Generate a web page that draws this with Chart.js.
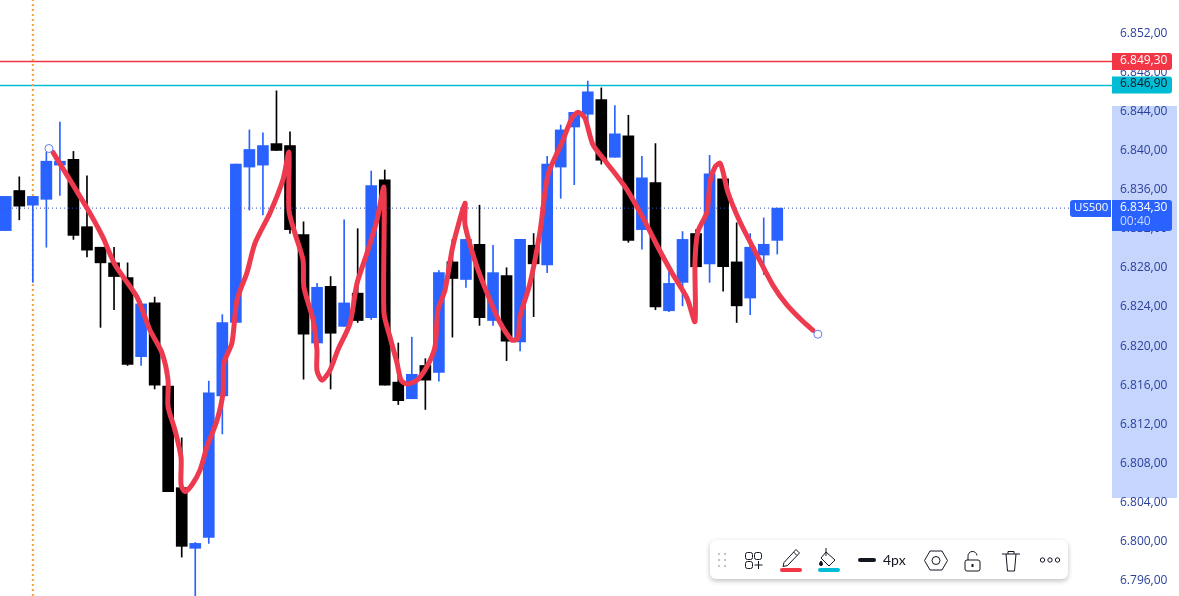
<!DOCTYPE html>
<html>
<head>
<meta charset="utf-8">
<title>US500</title>
<script src="https://cdn.jsdelivr.net/npm/chart.js@4"></script>
<style>
    html, body { margin: 0; padding: 0; background: #fff; overflow: hidden; }
    #wrap { position: relative; width: 1179px; height: 596px; }
    #toolbar { position: absolute; left: 710px; top: 540px; width: 358px; height: 39px; background: #fff; border-radius: 6px; box-shadow: 0 2px 5px rgba(0,0,0,0.25); }
    #toolbar svg { position: absolute; left: 0; top: 0; }
    #toolbar span { position: absolute; left: 173px; top: 11px; font: 14px Lato, sans-serif; color: #131722; line-height: 18px; }
</style>
</head>
<body>
<div id="wrap">
    <canvas id="myChart" width="1179" height="596"></canvas>
    <div id="toolbar">
        <svg width="358" height="39" fill="none" stroke="#131722" stroke-width="1">
            <g fill="#c4c7ce" stroke="none">
                <circle cx="9" cy="14" r="1.2"/><circle cx="15" cy="14" r="1.2"/>
                <circle cx="9" cy="20" r="1.2"/><circle cx="15" cy="20" r="1.2"/>
                <circle cx="9" cy="26" r="1.2"/><circle cx="15" cy="26" r="1.2"/>
            </g>
            <rect x="35.500" y="12.500" width="7" height="7" rx="2"/><rect x="44.500" y="12.500" width="7" height="7" rx="2"/>
            <rect x="35.500" y="21.500" width="7" height="7" rx="2"/><path d="M44.500 25h8M48.500 21v8"/>
            <path d="M74 22.500l12-13 3.500 3.500-12 12.500-4.500 1zM83.500 12l3.500 3.500"/>
            <rect x="70" y="28" width="22" height="4" rx="2" fill="#f23645" stroke="none"/>
            <path d="M116 12l9 8-6 6-8-8zM116 8v8"/>
            <path d="M111 21c-1 1.500-1.500 2-1.500 3a1.500 1.500 0 0 0 3 0c0-1-.5-1.500-1.500-3z" fill="#131722"/>
            <rect x="108" y="28" width="22" height="4" rx="2" fill="#00bcd4" stroke="none"/>
            <rect x="148" y="18" width="18" height="4" rx="2" fill="#131722" stroke="none"/>
            <path d="M220 11h12l5.500 9.500-5.500 9.500h-12l-5.500-9.500z"/>
            <circle cx="226" cy="20.500" r="4"/>
            <rect x="255" y="20" width="15" height="11" rx="2"/><path d="M258 20v-3.500a4.500 4.500 0 0 1 9-1"/>
            <path d="M262.500 24v3" stroke-width="2"/>
            <path d="M292 14h18M296 14l1.500 17h7l1.500-17M298 14v-2.500h6v2.500"/>
            <circle cx="332.500" cy="20" r="2.200"/><circle cx="340" cy="20" r="2.200"/><circle cx="347.500" cy="20" r="2.200"/>
        </svg>
        <span>4px</span>
    </div>
</div>
<script>
// Candles, oldest first
const opens = [6832.0, 6836.1, 6834.6, 6835.2, 6838.7, 6839.3, 6832.4, 6830.3, 6828.7, 6827.2,
    6819.1, 6824.6, 6816.1, 6805.7, 6799.5, 6800.6, 6815.1, 6822.6, 6838.5, 6838.7,
    6840.9, 6840.7, 6831.6, 6820.5, 6826.3, 6822.2, 6825.6, 6823.1, 6837.2, 6816.5,
    6814.8, 6818.2, 6817.5, 6828.8, 6827.0, 6830.6, 6822.8, 6827.4, 6820.6, 6830.5,
    6828.5, 6838.5, 6842.6, 6843.9, 6845.4, 6839.5, 6841.7, 6832.1, 6836.9, 6823.8,
    6826.7, 6831.7, 6828.6, 6837.3, 6828.8, 6825.1, 6829.5, 6831.0];
const highs = [6835.5, 6837.5, 6835.5, 6840.0, 6843.1, 6840.1, 6837.6, 6830.3, 6830.3, 6828.7,
    6824.8, 6825.2, 6816.1, 6810.8, 6800.1, 6816.6, 6823.4, 6838.8, 6842.3, 6842.0,
    6846.3, 6842.1, 6832.9, 6826.6, 6827.3, 6833.1, 6832.2, 6838.1, 6838.2, 6820.5,
    6821.1, 6818.9, 6827.9, 6831.1, 6831.1, 6834.6, 6830.5, 6828.2, 6831.1, 6831.7,
    6839.6, 6842.8, 6844.1, 6847.3, 6846.6, 6844.8, 6843.8, 6839.6, 6840.9, 6828.4,
    6831.9, 6832.1, 6839.7, 6837.3, 6832.8, 6831.7, 6833.3, 6834.3];
const lows = [6832.0, 6833.1, 6826.7, 6830.3, 6835.6, 6831.1, 6829.3, 6822.1, 6823.9, 6818.2,
    6818.2, 6815.8, 6805.3, 6798.6, 6794.6, 6800.0, 6811.2, 6822.6, 6834.1, 6833.6,
    6840.2, 6831.7, 6816.8, 6820.5, 6815.8, 6822.2, 6822.6, 6822.9, 6816.2, 6814.2,
    6814.8, 6813.7, 6816.6, 6821.1, 6826.2, 6822.3, 6822.3, 6818.7, 6819.7, 6823.2,
    6827.7, 6835.3, 6836.7, 6843.1, 6838.8, 6839.5, 6830.8, 6830.1, 6823.9, 6823.7,
    6824.3, 6828.3, 6826.7, 6825.8, 6822.6, 6823.4, 6827.5, 6829.6];
const closes = [6835.5, 6834.5, 6835.5, 6839.1, 6839.1, 6831.5, 6830.0, 6828.7, 6827.3, 6818.3,
    6824.5, 6816.2, 6805.3, 6799.7, 6800.0, 6815.4, 6822.6, 6838.8, 6840.3, 6840.7,
    6840.2, 6832.1, 6821.4, 6826.2, 6821.5, 6824.6, 6822.8, 6836.6, 6816.2, 6814.6,
    6817.3, 6816.7, 6827.7, 6827.1, 6831.1, 6823.1, 6827.7, 6820.7, 6831.1, 6828.6,
    6838.8, 6842.3, 6844.1, 6846.2, 6839.2, 6841.9, 6831.0, 6837.4, 6824.2, 6826.6,
    6831.1, 6828.3, 6837.8, 6828.3, 6824.3, 6830.3, 6830.6, 6834.3];

// Freehand brush stroke, as bar position and price
const brushBars = [3.49, 4.60, 6.00, 7.18, 8.07, 9.70, 10.66, 11.54, 11.99, 11.99,
    12.50, 12.95, 12.95, 13.24, 13.76, 14.35, 14.87, 15.61, 16.05, 16.12,
    16.71, 17.08, 17.82, 18.41, 19.52, 20.48, 20.92, 20.92, 21.37, 21.96,
    22.03, 22.70, 22.99, 22.99, 23.36, 23.95, 24.54, 25.43, 25.95, 26.69,
    27.43, 27.94, 27.94, 28.39, 28.90, 29.20, 29.64, 30.38, 31.12, 31.71,
    31.93, 32.45, 32.97, 33.34, 33.93, 33.93, 34.81, 35.77, 36.51, 37.40,
    37.84, 37.99, 38.73, 39.47, 40.06, 41.09, 41.83, 42.28, 42.79, 43.38,
    44.42, 45.89, 47.08, 48.11, 49.29, 50.33, 50.92, 50.92, 51.14, 51.81,
    52.03, 52.40, 52.77, 52.99, 53.36, 54.24, 55.50, 56.68, 57.71, 58.90, 59.64];
const brushPrices = [6840.0, 6837.5, 6834.3, 6831.3, 6828.5, 6825.2, 6821.8, 6819.5, 6816.7, 6814.0,
    6811.6, 6808.8, 6806.0, 6805.3, 6806.0, 6807.5, 6809.9, 6812.6, 6815.4, 6818.5,
    6820.5, 6824.9, 6827.7, 6830.7, 6833.8, 6837.2, 6840.0, 6834.1, 6831.7, 6829.0,
    6826.2, 6822.9, 6819.8, 6817.7, 6816.7, 6817.7, 6819.8, 6822.5, 6826.6, 6829.7,
    6833.1, 6836.4, 6823.6, 6821.1, 6818.5, 6816.7, 6816.3, 6816.7, 6818.1, 6820.1,
    6823.9, 6825.9, 6830.0, 6832.1, 6834.8, 6832.6, 6828.3, 6824.9, 6822.6, 6820.8,
    6821.0, 6823.2, 6826.6, 6831.9, 6837.7, 6841.0, 6843.5, 6844.1, 6843.5, 6840.8,
    6838.9, 6836.2, 6833.3, 6830.5, 6827.5, 6825.1, 6822.7, 6828.8, 6831.9, 6833.9,
    6837.0, 6838.5, 6838.9, 6838.0, 6835.9, 6832.9, 6829.5, 6826.4, 6824.4, 6822.7, 6821.8];
const handleBars = [3.19, 60.0];
const handlePrices = [6840.4, 6821.4];

const priceTicks = [6856, 6852, 6848, 6844, 6840, 6836, 6832, 6828, 6824, 6820, 6816, 6812, 6808, 6804, 6800, 6796];
const redLevel = 6849.3;
const tealLevel = 6846.9;
const lastPrice = 6834.3;
const countdown = '00:40';
const symbol = 'US500';
const markedBar = 2;
const bandTop = 6844.75;
const bandBottom = 6804.65;

const priceMin = 6794.62;
const priceMax = 6855.59;
const barMin = -0.4255;
const barMax = 81.73;

const BLUE = '#2962ff';
const RED = '#f23645';
const TEAL = '#00bcd4';
const FONT = '12px "Open Sans", sans-serif';
const AXIS_TEXT = '#2a3f9e';

// 6852 -> 6.852,00
function formatPrice(value) {
    const parts = value.toFixed(2).split('.');
    return parts[0].replace(/\B(?=(\d{3})+$)/, '.') + ',' + parts[1];
}

function roundTag(ctx, x, y, w, h, color, left) {
    ctx.fillStyle = color;
    ctx.beginPath();
    ctx.roundRect(x, y, w, h, left ? [3, 0, 0, 3] : [0, 3, 3, 0]);
    ctx.fill();
}

// Pale band on the price axis, behind the tick labels
const axisBand = {
    id: 'axisBand',
    beforeDraw(chart) {
        const y = chart.scales.y;
        const top = y.getPixelForValue(bandTop);
        const bottom = y.getPixelForValue(bandBottom);
        chart.ctx.fillStyle = '#c5d5fb';
        chart.ctx.fillRect(y.left, top, y.width - 2, bottom - top);
    }
};

// The two horizontal levels, snapped to whole pixels
const levelLines = {
    id: 'levelLines',
    beforeDatasetsDraw(chart) {
        const ctx = chart.ctx;
        const y = chart.scales.y;
        ctx.save();
        ctx.lineWidth = 1.5;
        [[redLevel, RED], [tealLevel, TEAL]].forEach(([level, color]) => {
            const py = Math.round(y.getPixelForValue(level)) + 0.5;
            ctx.strokeStyle = color;
            ctx.beginPath();
            ctx.moveTo(chart.chartArea.left, py);
            ctx.lineTo(chart.chartArea.right, py);
            ctx.stroke();
        });
        ctx.restore();
    }
};

// Price tags on the axis
const priceTags = {
    id: 'priceTags',
    afterDraw(chart) {
        const ctx = chart.ctx;
        const y = chart.scales.y;
        const left = y.left;
        ctx.save();
        ctx.font = FONT;
        ctx.textBaseline = 'middle';
        ctx.textAlign = 'left';

        const redY = y.getPixelForValue(redLevel);
        roundTag(ctx, left, redY - 8.5, 60, 17, RED);
        ctx.fillStyle = '#fff';
        ctx.fillText(formatPrice(redLevel), left + 8, redY - 1);

        const tealY = y.getPixelForValue(tealLevel);
        roundTag(ctx, left, tealY - 8.5, 60, 17, TEAL);
        ctx.fillStyle = '#131722';
        ctx.fillText(formatPrice(tealLevel), left + 8, tealY - 1);

        const lastY = y.getPixelForValue(lastPrice);
        roundTag(ctx, left, lastY - 8, 60, 31, BLUE);
        ctx.fillStyle = '#fff';
        ctx.fillText(formatPrice(lastPrice), left + 8, lastY - 1);
        ctx.fillStyle = '#c9d8ff';
        ctx.fillText(countdown, left + 8, lastY + 13);

        roundTag(ctx, left - 42, lastY - 8, 41, 17, BLUE, true);
        ctx.font = '11.5px "Open Sans", sans-serif';
        ctx.fillStyle = '#fff';
        ctx.fillText(symbol, left - 38, lastY - 0.5);
        ctx.restore();
    }
};

const bars = opens.map((o, i) => i);
const candleColors = opens.map((o, i) => closes[i] >= o ? BLUE : '#000000');

const ctx = document.getElementById('myChart').getContext('2d');
const myChart = new Chart(ctx, {
    data: {
        datasets: [
            {
                type: 'line',
                data: brushBars.map((b, i) => ({ x: b, y: brushPrices[i] })),
                borderColor: '#ee3a4f',
                borderWidth: 5,
                tension: 0.25,
                pointRadius: 0,
                borderCapStyle: 'round',
                borderJoinStyle: 'round',
                order: 1
            },
            {
                type: 'line',
                data: handleBars.map((b, i) => ({ x: b, y: handlePrices[i] })),
                showLine: false,
                pointRadius: 4,
                pointBackgroundColor: '#ffffff',
                pointBorderColor: '#5a7fe8',
                pointBorderWidth: 1,
                order: 0
            },
            {
                type: 'line',
                data: [{ x: barMin, y: lastPrice }, { x: barMax, y: lastPrice }],
                borderColor: '#2f4fc4',
                borderWidth: 1,
                borderDash: [1, 3],
                pointRadius: 0,
                order: 2
            },
            {
                type: 'bar',
                data: bars.map(i => ({ x: i, y: [opens[i], closes[i]] })),
                backgroundColor: candleColors,
                barThickness: 11,
                grouped: false,
                order: 3
            },
            {
                type: 'bar',
                data: bars.map(i => ({ x: i, y: [lows[i], highs[i]] })),
                backgroundColor: candleColors,
                barThickness: 1,
                grouped: false,
                order: 4
            },
            {
                type: 'line',
                data: [{ x: markedBar, y: priceMin }, { x: markedBar, y: priceMax }],
                borderColor: '#f7a23b',
                borderWidth: 2,
                borderDash: [2, 3],
                pointRadius: 0,
                order: 6
            }
        ]
    },
    options: {
        responsive: false,
        animation: false,
        layout: { padding: 0, autoPadding: false },
        events: [],
        plugins: { legend: { display: false }, tooltip: { enabled: false } },
        scales: {
            x: {
                type: 'linear',
                min: barMin,
                max: barMax,
                offset: false,
                display: false
            },
            y: {
                type: 'linear',
                position: 'right',
                min: priceMin,
                max: priceMax,
                grid: { display: false, drawTicks: false },
                border: { display: false },
                afterBuildTicks: axis => { axis.ticks = priceTicks.map(v => ({ value: v })); },
                afterFit: axis => {
                    axis.width = 67;
                    axis.paddingTop = 0;
                    axis.paddingBottom = 0;
                },
                ticks: {
                    color: AXIS_TEXT,
                    font: { family: '"Open Sans", sans-serif', size: 12 },
                    padding: 8,
                    labelOffset: -1.8,
                    autoSkip: false,
                    maxRotation: 0,
                    callback: value => formatPrice(value)
                }
            }
        }
    },
    plugins: [axisBand, levelLines, priceTags]
});
</script>
</body>
</html>
